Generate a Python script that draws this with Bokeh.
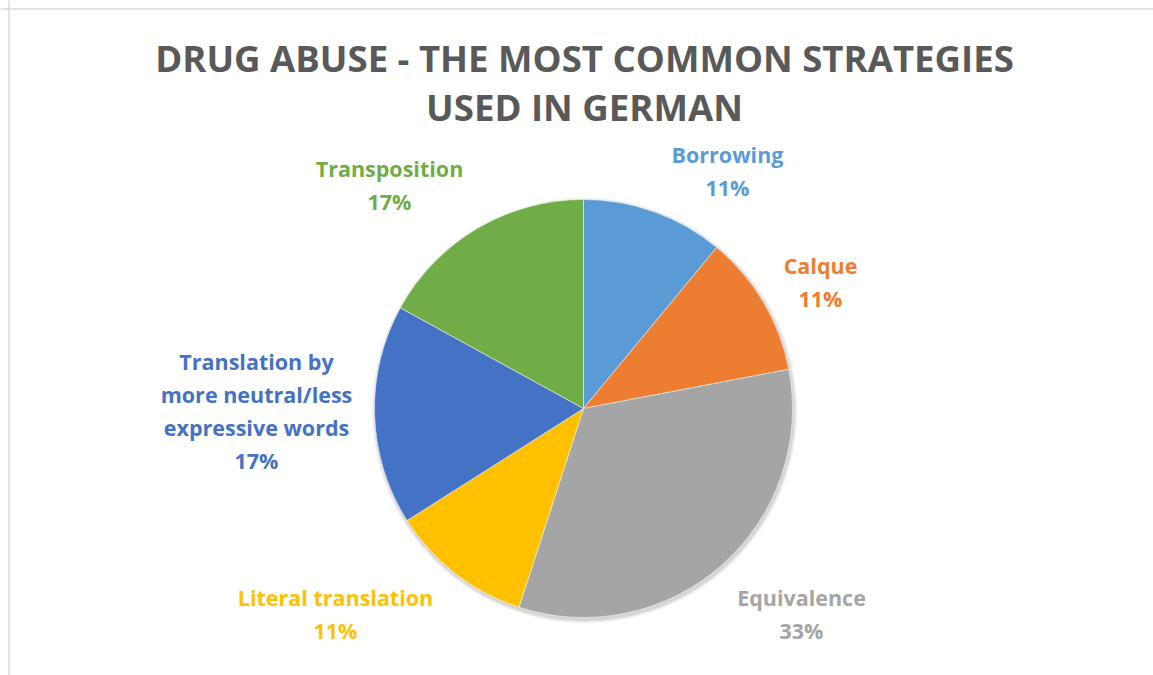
import numpy as np
from bokeh.plotting import figure
from bokeh.models import Range1d, Span
from bokeh.core.properties import value
from bokeh.embed import file_html
from bokeh.resources import INLINE

# ---------------- data ----------------
categories = ["Borrowing", "Calque", "Equivalence", "Literal translation",
              "Translation by more neutral/less expressive words", "Transposition"]
percents = [11, 11, 33, 11, 17, 17]
colors = ["#5B9BD5", "#ED7D31", "#A5A5A5", "#FFC000", "#4472C4", "#70AD47"]
label_lines = [["Borrowing"], ["Calque"], ["Equivalence"], ["Literal translation"],
               ["Translation by", "more neutral/less", "expressive words"], ["Transposition"]]
title_lines = ["DRUG ABUSE - THE MOST COMMON STRATEGIES", "USED IN GERMAN"]

# ---------------- layout (page-pixel data space, y negated) ----------------
W, H = 1153, 675
CX, CY, R = 583, -408, 209
# label anchor (first line centre) in page pixels
label_pos = [(727, 154), (820, 265), (801, 597), (335, 597), (256, 361), (389, 168)]
LINE_H = 33

p = figure(width=W, height=H, output_backend="svg", toolbar_location=None,
           x_range=Range1d(0, W), y_range=Range1d(-H, 0), min_border=0)
p.axis.visible = False
p.grid.visible = False
p.outline_line_color = None
p.background_fill_color = "white"
p.border_fill_color = "white"

# chart frame (top and left edges visible)
p.add_layout(Span(location=8.5, dimension="height", line_color="#D9D9D9", line_width=1.5))
p.add_layout(Span(location=-8.5, dimension="width", line_color="#D9D9D9", line_width=1.5))

# title
p.text(x=[584, 584], y=[-57, -106], text=title_lines,
       text_font=value("Open Sans"), text_font_style="bold", text_font_size="36.6px",
       text_color="#595959", text_align="center", text_baseline="middle")

# soft shadow
for i, a in enumerate([0.05, 0.05, 0.04, 0.03]):
    p.circle(x=[CX + 1], y=[CY - 2], radius=R + 1 + i, fill_color="black",
             fill_alpha=a, line_color=None)

# wedges
total = float(sum(percents))
fr = np.array(percents) / total
cum = np.concatenate([[0], np.cumsum(fr)])
starts = np.pi / 2 - 2 * np.pi * cum[:-1]
ends = np.pi / 2 - 2 * np.pi * cum[1:]
p.wedge(x=CX, y=CY, radius=R, start_angle=list(starts), end_angle=list(ends),
        direction="clock", fill_color=colors, line_color="white", line_width=0.5)

# data labels
for lines, pct, col, (lx, ly) in zip(label_lines, percents, colors, label_pos):
    texts = lines + [f"{pct}%"]
    xs = [lx] * len(texts)
    ys = [-(ly + i * LINE_H) for i in range(len(texts))]
    p.text(x=xs, y=ys, text=texts, text_font=value("Open Sans"), text_font_style="bold",
           text_font_size="21.5px", text_color=col, text_align="center", text_baseline="middle")

open("out.html", "w").write(file_html(p, INLINE))
